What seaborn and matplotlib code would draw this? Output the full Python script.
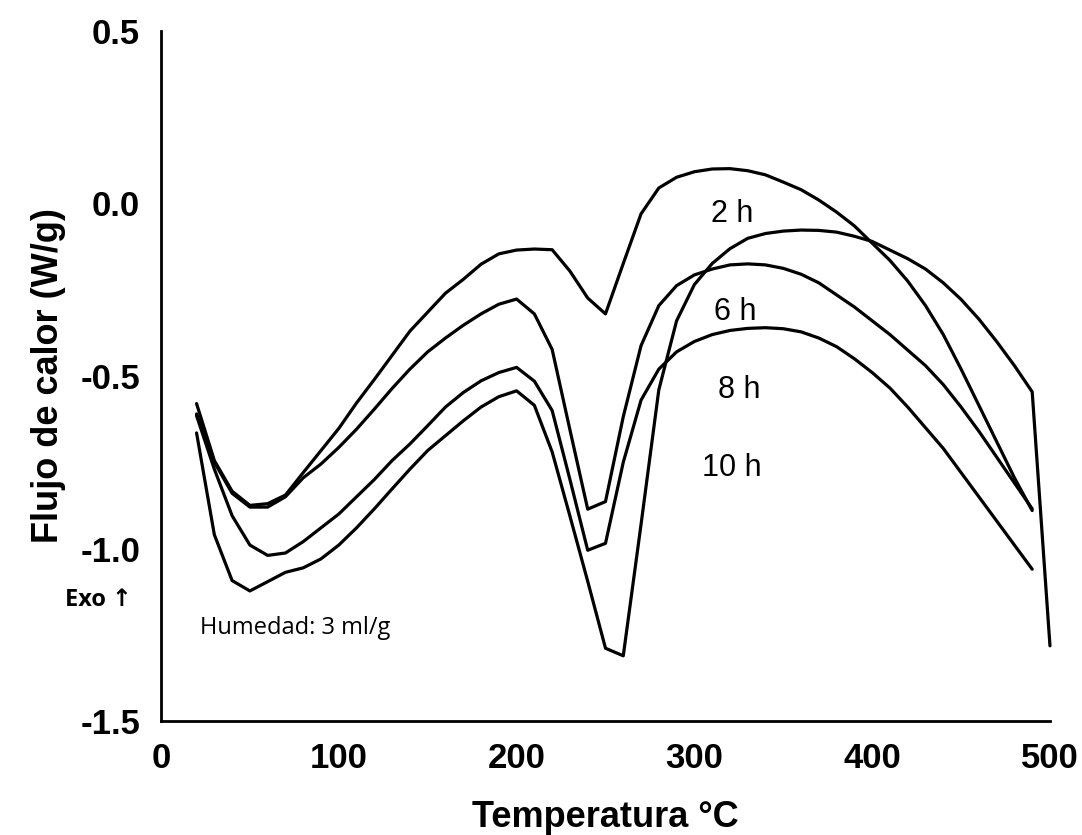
import numpy as np
import pandas as pd
import matplotlib
matplotlib.use("Agg")
import matplotlib.pyplot as plt
from matplotlib.ticker import MultipleLocator
import seaborn as sns

# ---- data ----
temp = [20, 30, 40, 50, 60, 70, 80, 90, 100, 110, 120, 130, 140, 150, 160, 170,
        180, 190, 200, 210, 220, 230, 240, 250, 260, 270, 280, 290, 300, 310, 320,
        330, 340, 350, 360, 370, 380, 390, 400, 410, 420, 430, 440, 450, 460, 470,
        480, 490]
temp_10h = temp + [500]

flujo_2h = [-0.58, -0.745, -0.834, -0.875, -0.87, -0.845, -0.78, -0.716, -0.652, -0.578,
            -0.51, -0.44, -0.37, -0.315, -0.26, -0.22, -0.176, -0.146, -0.135, -0.132,
            -0.134, -0.196, -0.274, -0.32, -0.174, -0.03, 0.045, 0.076, 0.092, 0.100,
            0.101, 0.095, 0.083, 0.062, 0.040, 0.010, -0.025, -0.065, -0.115, -0.165,
            -0.225, -0.296, -0.38, -0.48, -0.585, -0.69, -0.795, -0.89]
flujo_6h = [-0.61, -0.75, -0.84, -0.88, -0.88, -0.85, -0.795, -0.755, -0.707, -0.654,
            -0.596, -0.536, -0.48, -0.43, -0.39, -0.353, -0.32, -0.292, -0.277, -0.32,
            -0.423, -0.656, -0.886, -0.864, -0.618, -0.412, -0.296, -0.238, -0.207, -0.19,
            -0.178, -0.175, -0.178, -0.188, -0.205, -0.23, -0.265, -0.30, -0.34, -0.38,
            -0.425, -0.47, -0.525, -0.59, -0.66, -0.735, -0.81, -0.885]
flujo_8h = [-0.615, -0.77, -0.905, -0.99, -1.02, -1.013, -0.98, -0.94, -0.90, -0.85,
            -0.80, -0.745, -0.697, -0.644, -0.59, -0.548, -0.514, -0.49, -0.475, -0.515,
            -0.60, -0.80, -1.005, -0.985, -0.75, -0.57, -0.48, -0.43, -0.40, -0.38,
            -0.368, -0.362, -0.36, -0.363, -0.372, -0.39, -0.415, -0.45, -0.49, -0.535,
            -0.59, -0.65, -0.71, -0.78, -0.85, -0.92, -0.99, -1.06]
flujo_10h = [-0.665, -0.96, -1.093, -1.123, -1.096, -1.069, -1.056, -1.03, -0.99, -0.94,
             -0.885, -0.827, -0.77, -0.716, -0.673, -0.63, -0.59, -0.56, -0.543, -0.585,
             -0.72, -0.906, -1.095, -1.289, -1.311, -0.93, -0.54, -0.34, -0.235, -0.174,
             -0.131, -0.101, -0.087, -0.08, -0.077, -0.078, -0.083, -0.095, -0.11, -0.135,
             -0.16, -0.19, -0.23, -0.278, -0.335, -0.40, -0.47, -0.546, -1.282]

series_names = ["2 h", "6 h", "8 h", "10 h"]
label_x = [321, 323, 325, 321]
label_y = [-0.03, -0.315, -0.54, -0.767]

x_ticks = [0, 100, 200, 300, 400, 500]
y_ticks = [-1.5, -1.0, -0.5, 0.0, 0.5]
y_tick_labels = ["-1.5", "-1.0", "-0.5", "0.0", "0.5"]

# ---- long-form table ----
frames = []
for name, xs, ys in zip(series_names,
                        [temp, temp, temp, temp_10h],
                        [flujo_2h, flujo_6h, flujo_8h, flujo_10h]):
    frames.append(pd.DataFrame({"Temperatura": xs, "Flujo": ys, "serie": name}))
df = pd.concat(frames, ignore_index=True)

sns.set_theme(style="white")
plt.rcParams["font.family"] = ["Liberation Sans", "DejaVu Sans"]
plt.rcParams["text.color"] = "black"
plt.rcParams["axes.labelcolor"] = "black"
plt.rcParams["xtick.color"] = "black"
plt.rcParams["ytick.color"] = "black"

fig = plt.figure(figsize=(10.82, 8.35), dpi=100)
ax = fig.add_axes([0.1488, 0.1365, 0.8216, 0.8264])

sns.lineplot(data=df, x="Temperatura", y="Flujo", hue="serie",
             palette={n: "black" for n in series_names}, estimator=None,
             sort=False, legend=False, linewidth=2.3, ax=ax, clip_on=False)

ax.set_xlim(0, 500)
ax.set_ylim(-1.5, 0.5)
ax.set_xticks(x_ticks)
ax.set_yticks(y_ticks)
ax.set_yticklabels(y_tick_labels)
ax.xaxis.set_minor_locator(MultipleLocator(50))
ax.yaxis.set_minor_locator(MultipleLocator(0.25))

for s in ["top", "right"]:
    ax.spines[s].set_visible(False)
for s in ["left", "bottom"]:
    ax.spines[s].set_linewidth(2.0)
    ax.spines[s].set_color("black")

ax.tick_params(axis="both", which="major", direction="out", length=9, width=2.0,
               color="black", labelcolor="black", labelsize=25, pad=6)
ax.tick_params(axis="both", which="minor", direction="out", length=5, width=1.6,
               color="black")
for lab in ax.get_xticklabels() + ax.get_yticklabels():
    lab.set_fontweight("bold")

ax.set_xlabel("Temperatura °C", fontsize=26, fontweight="bold", labelpad=18,
              color="black")
ax.set_ylabel("Flujo de calor (W/g)", fontsize=26, fontweight="bold", labelpad=10,
              color="black")

for name, lx, ly in zip(series_names, label_x, label_y):
    ax.text(lx, ly, name, fontsize=22, ha="center", va="center", color="black")

fig.text(98 / 1082, 1 - 600 / 835, "Exo ↑", fontsize=17, fontweight="bold",
         ha="center", va="center", color="black",
         family=["Open Sans", "DejaVu Sans"])
ax.text(22, -1.23, "Humedad: 3 ml/g", fontsize=17, ha="left", va="center",
        color="black", family=["Open Sans", "DejaVu Sans"])

ax.set_facecolor("white")
fig.patch.set_facecolor("white")
fig.savefig("out.png", dpi=100, facecolor="white")
